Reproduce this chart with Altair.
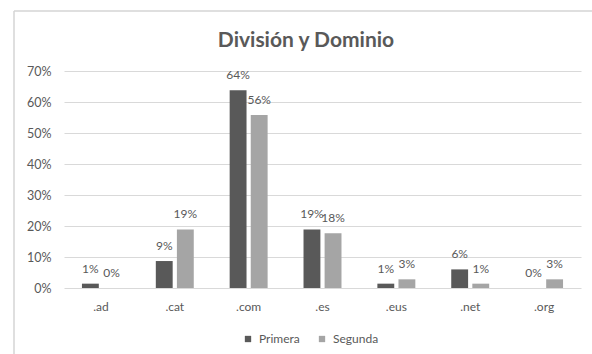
import altair as alt
import pandas as pd

# Top-level domains and share of sites per division
dominios = [".ad", ".cat", ".com", ".es", ".eus", ".net", ".org"]
primera = [0.014, 0.087, 0.638, 0.189, 0.014, 0.060, 0.0]
segunda = [0.0, 0.189, 0.558, 0.177, 0.028, 0.014, 0.028]
series = ["Primera", "Segunda"]
colores = ["#595959", "#a5a5a5"]
y_ticks = [0, 0.1, 0.2, 0.3, 0.4, 0.5, 0.6, 0.7]
titulo = "División y Dominio"

rows = []
for i, d in enumerate(dominios):
    rows.append({"dominio": d, "division": series[0], "valor": primera[i]})
    rows.append({"dominio": d, "division": series[1], "valor": segunda[i]})
df = pd.DataFrame(rows)

FONT = "Lato"
GRIS = "#595959"

x_enc = alt.X(
    "dominio:N",
    sort=dominios,
    scale=alt.Scale(paddingInner=0.486, paddingOuter=0.243),
    axis=alt.Axis(
        title=None, labelAngle=0, domain=False, ticks=False, grid=False,
        labelPadding=13, labelFontSize=12, labelColor=GRIS, labelFont=FONT,
    ),
)
xoff_enc = alt.XOffset(
    "division:N", sort=series, scale=alt.Scale(paddingInner=0.2, paddingOuter=0)
)
y_enc = alt.Y(
    "valor:Q",
    scale=alt.Scale(domain=[0, 0.7], nice=False),
    axis=alt.Axis(
        title=None, values=y_ticks, format=".0%", domain=False, ticks=False,
        grid=True, gridColor="#d9d9d9", gridWidth=1, labelOverlap=False,
        labelPadding=13, labelFontSize=12.5, labelColor=GRIS, labelFont=FONT,
    ),
)

bars = alt.Chart(df).mark_bar().encode(
    x=x_enc,
    xOffset=xoff_enc,
    y=y_enc,
    color=alt.Color(
        "division:N",
        sort=series,
        scale=alt.Scale(domain=series, range=colores),
        legend=alt.Legend(
            title=None, orient="none", direction="horizontal",
            legendX=178, legendY=262, symbolType="square", symbolSize=40,
            symbolStrokeWidth=0, labelFontSize=12, labelColor=GRIS,
            labelFont=FONT, labelOffset=5, columnPadding=16, padding=0,
        ),
    ),
)

labels = alt.Chart(df).mark_text(
    baseline="middle", dy=-15, fontSize=12, color=GRIS, font=FONT
).encode(
    x=x_enc,
    xOffset=xoff_enc,
    y=y_enc,
    text=alt.Text("valor:Q", format=".0%"),
)

marco = pd.DataFrame({"k": [0]})

# Chart title, centred over the whole chart area
title_mark = alt.Chart(marco).mark_text(
    text=titulo, fontSize=21, fontWeight="bold", color=GRIS, font=FONT,
    align="center", baseline="alphabetic",
).encode(x=alt.value(242), y=alt.value(-24))

# Chart-area border (top and left edges)
borde_sup = alt.Chart(marco).mark_rule(color="#d4d4d4", strokeWidth=1.5, clip=False).encode(
    x=alt.value(-50), x2=alt.value(540), y=alt.value(-60)
)
borde_izq = alt.Chart(marco).mark_rule(color="#d4d4d4", strokeWidth=1.5, clip=False).encode(
    x=alt.value(-50), y=alt.value(-60), y2=alt.value(300)
)

chart = (
    alt.layer(borde_sup, borde_izq, title_mark, bars, labels)
    .properties(
        width=517,
        height=217,
        autosize=alt.AutoSizeParams(type="none"),
        padding={"left": 64, "top": 71, "right": 11, "bottom": 66},
    )
    .configure(background="white")
    .configure_view(stroke="transparent")
)

chart.save("out.html", embed_options={"renderer": "svg", "actions": False})
